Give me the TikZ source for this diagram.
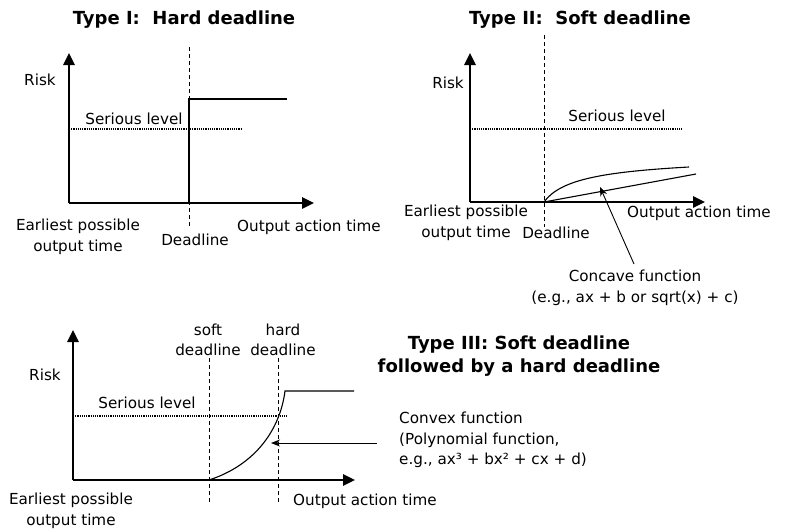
\documentclass[tikz,border=0pt]{standalone}
\usepackage{fontspec}
\setmainfont{DejaVu Sans}
\usetikzlibrary{arrows.meta}
\begin{document}
\begin{tikzpicture}[x=1pt,y=-1pt,
  txt/.style={inner sep=0pt,font=\fontsize{15.2}{20.5}\selectfont,align=center},
  ttl/.style={inner sep=0pt,font=\fontsize{18}{23}\selectfont\bfseries,align=center},
  axis/.style={line width=2.6pt,-{Triangle[length=12pt,width=11pt]}},
  dl/.style={line width=0.8pt,dash pattern=on 4pt off 3pt},
  lvl/.style={line width=1.5pt,dash pattern=on 1.2pt off 1pt},
  fn/.style={line width=1.1pt},
  ptr/.style={line width=0.9pt,-{Stealth[length=9pt,width=7pt]}}]
\useasboundingbox (0,0) rectangle (791,531);
% ---------- Panel I ----------
\node[ttl] (t1) at (184,20) {Type I:~~Hard deadline};
\coordinate (o1) at (69,203);
\coordinate (y1) at (69,53);
\coordinate (x1) at (314,203);
\coordinate (d1a) at (189,47);
\coordinate (d1b) at (189,227);
\coordinate (s1a) at (69,129);
\coordinate (s1b) at (242,129);
\coordinate (f1a) at (189,203);
\coordinate (f1b) at (189,99);
\coordinate (f1c) at (287,99);
\draw[dl] (d1a) -- (d1b);
\draw[lvl] (s1a) -- (s1b);
\draw[fn] (f1a) -- (f1b) -- (f1c);
\draw[axis] (o1) -- (y1);
\draw[axis] (o1) -- (x1);
\node[txt] (r1) at (40,80) {Risk};
\node[txt] (sl1) at (134,119) {Serious level};
\node[txt] (e1) at (78,237) {Earliest possible\\output time};
\node[txt] (dd1) at (195,240) {Deadline};
\node[txt,anchor=west] (oa1) at (237,227) {Output action time};
% ---------- Panel II ----------
\node[ttl] (t2) at (580,20) {Type II:~~Soft deadline};
\coordinate (o2) at (470,202);
\coordinate (y2) at (470,53);
\coordinate (x2) at (705,202);
\coordinate (d2a) at (544,35);
\coordinate (d2b) at (544,227);
\coordinate (s2a) at (470,129);
\coordinate (s2b) at (682,129);
\coordinate (f2a) at (544,202);
\coordinate (f2b) at (689,167);
\coordinate (f2c) at (696,174);
\coordinate (p2a) at (634,264);
\coordinate (p2b) at (600,187);
\draw[dl] (d2a) -- (d2b);
\draw[lvl] (s2a) -- (s2b);
\draw[fn] (f2a) .. controls (560,180) and (600,172) .. (f2b);
\draw[fn] (f2a) -- (f2c);
\draw[axis] (o2) -- (y2);
\draw[axis] (o2) -- (x2);
\draw[ptr] (p2a) -- (p2b);
\node[txt] (r2) at (448,83) {Risk};
\node[txt] (sl2) at (617,116) {Serious level};
\node[txt] (e2) at (466,223) {Earliest possible\\output time};
\node[txt] (dd2) at (556,233) {Deadline};
\node[txt,anchor=west] (oa2) at (627,213) {Output action time};
\node[txt] (cc) at (635,288) {Concave function\\(e.g., ax + b or sqrt(x) + c)};
% ---------- Panel III ----------
\node[ttl] (t3) at (519,356) {Type III: Soft deadline\\followed by a hard deadline};
\coordinate (o3) at (73,480);
\coordinate (y3) at (73,330);
\coordinate (x3) at (355,480);
\coordinate (d3a) at (209,358);
\coordinate (d3b) at (209,502);
\coordinate (d3c) at (278,358);
\coordinate (d3d) at (278,502);
\coordinate (s3a) at (73,416);
\coordinate (s3b) at (287,416);
\coordinate (f3a) at (209,480);
\coordinate (f3b) at (285,391);
\coordinate (f3c) at (354,391);
\coordinate (p3a) at (377,443);
\coordinate (p3b) at (271,443);
\draw[dl] (d3a) -- (d3b);
\draw[dl] (d3c) -- (d3d);
\draw[lvl] (s3a) -- (s3b);
\draw[fn] (f3a) .. controls (255,465) and (280,430) .. (f3b) -- (f3c);
\draw[axis] (o3) -- (y3);
\draw[axis] (o3) -- (x3);
\draw[ptr] (p3a) -- (p3b);
\node[txt] (r3) at (45,375) {Risk};
\node[txt] (sl3) at (147,403) {Serious level};
\node[txt] (sd) at (208,340) {soft\\deadline};
\node[txt] (hd) at (283,340) {hard\\deadline};
\node[txt] (e3) at (71,511) {Earliest possible\\output time};
\node[txt,anchor=west] (oa3) at (293,501) {Output action time};
\node[txt,anchor=west,align=left] (cv) at (399,440) {Convex function\\(Polynomial function,\\e.g., ax³ + bx² + cx + d)};
\end{tikzpicture}
\end{document}
